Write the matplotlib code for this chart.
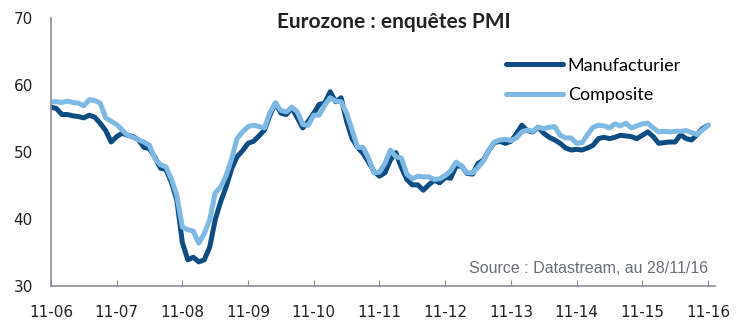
import matplotlib.pyplot as plt
import numpy as np

# monthly PMI, Nov 2006 -> Nov 2016
manufacturier = [
    56.7, 56.5, 55.6, 55.6, 55.4, 55.3, 55.1, 55.5, 55.2, 54.3, 53.2, 51.5,
    52.3, 52.8, 52.5, 52.3, 51.8, 50.7, 50.5, 49.2, 47.6, 47.4, 45.5, 42.8,
    36.5, 33.9, 34.3, 33.6, 33.9, 35.8, 39.9, 42.6, 44.8, 47.5, 49.3, 50.2,
    51.3, 51.6, 52.4, 53.3, 55.5, 57.3, 55.8, 55.6, 56.6, 55.1, 53.6, 54.6,
    55.8, 57.1, 57.3, 59.0, 57.5, 58.1, 54.6, 52.0, 50.7, 49.8, 48.5, 47.1,
    46.4, 46.9, 48.8, 49.9, 47.7, 45.9, 45.1, 45.1, 44.3, 45.1, 45.8, 45.4,
    46.2, 46.1, 47.9, 47.9, 46.8, 46.7, 48.3, 48.8, 50.3, 51.4, 51.6, 51.3,
    51.6, 52.7, 54.0, 53.2, 53.0, 53.7, 52.8, 52.2, 51.8, 51.3, 50.6, 50.3,
    50.4, 50.3, 50.6, 51.0, 52.0, 52.2, 52.0, 52.2, 52.5, 52.4, 52.3, 52.0,
    52.5, 53.0, 52.3, 51.3, 51.4, 51.5, 51.5, 52.6, 52.0, 51.8, 52.6, 53.5,
    54.0,
]
composite = [
    57.5, 57.5, 57.4, 57.6, 57.4, 57.3, 56.9, 57.8, 57.7, 57.3, 55.1, 54.6,
    54.1, 53.3, 52.5, 52.2, 51.8, 51.5, 51.0, 49.0, 48.1, 47.8, 46.0, 43.5,
    38.8, 38.4, 38.2, 36.4, 37.8, 39.9, 43.9, 44.8, 46.5, 49.0, 52.0, 53.0,
    53.8, 54.0, 53.8, 53.6, 55.9, 57.3, 56.2, 56.0, 56.7, 56.0, 54.1, 54.0,
    55.5, 55.5, 57.0, 58.1, 57.6, 57.5, 55.8, 53.3, 50.7, 50.7, 49.1, 46.9,
    47.0, 48.3, 50.3, 49.3, 49.1, 46.7, 46.0, 46.4, 46.3, 46.3, 45.9, 46.0,
    46.5, 47.2, 48.5, 47.9, 46.9, 46.9, 47.7, 48.7, 50.3, 51.5, 51.8, 51.9,
    51.7, 52.1, 53.0, 53.3, 53.1, 53.7, 53.5, 53.7, 53.8, 52.5, 52.1, 52.1,
    51.3, 51.4, 52.6, 53.7, 54.0, 53.9, 53.6, 54.2, 53.9, 54.3, 53.6, 53.9,
    54.2, 54.3, 53.6, 53.0, 53.1, 53.0, 53.1, 53.1, 53.2, 52.9, 52.6, 53.3,
    54.0,
]
tick_labels = ["11-06", "11-07", "11-08", "11-09", "11-10", "11-11",
               "11-12", "11-13", "11-14", "11-15", "11-16"]

months = np.arange(len(manufacturier))

fig = plt.figure(figsize=(7.38, 3.28), dpi=100)
ax = fig.add_axes([0.069, 0.128, 0.9, 0.817])

ax.plot(months, manufacturier, color="#0f4c81", lw=3.6, label="Manufacturier",
        solid_capstyle="round", solid_joinstyle="round")
ax.plot(months, composite, color="#7db9e2", lw=3.6, label="Composite",
        solid_capstyle="round", solid_joinstyle="round")

ax.set_xlim(0, 121.3)
ax.set_ylim(30, 70)
ax.set_xticks(np.arange(0, 121, 12))
ax.set_xticklabels(tick_labels)
ax.set_yticks([30, 40, 50, 60, 70])

for s in ["top", "right"]:
    ax.spines[s].set_visible(False)
for s in ["left", "bottom"]:
    ax.spines[s].set_color("#8a8f96")
    ax.spines[s].set_linewidth(1.2)
ax.tick_params(axis="x", direction="in", length=4, color="#8a8f96",
               labelsize=11, labelcolor="#222222", pad=14)
ax.tick_params(axis="y", length=0, labelsize=11, labelcolor="#222222", pad=13)

ax.text(0.517, 0.985, "Eurozone : enquêtes PMI", transform=ax.transAxes,
        ha="center", va="center", fontsize=15, fontweight="bold",
        family="Lato", color="#222222")

leg = ax.legend(loc="upper left", bbox_to_anchor=(0.685, 0.852), frameon=False,
                borderaxespad=0, borderpad=0,
                handlelength=3.15, handletextpad=0.28, labelspacing=0.75,
                prop={"family": "Lato", "size": 13})

ax.text(0.99, 0.065, "Source : Datastream, au 28/11/16", transform=ax.transAxes,
        ha="right", va="center", fontsize=11.5, family="Liberation Sans",
        color="#6b6f75")

fig.savefig("out.png", dpi=100)
